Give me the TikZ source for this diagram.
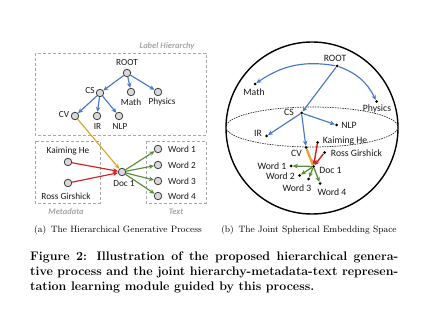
\documentclass[tikz,border=0pt]{standalone}
\usepackage{fontspec}
\setmainfont{Latin Modern Roman}
\newfontfamily\lblfont{Carlito}
\usetikzlibrary{arrows.meta}
\definecolor{arrblue}{HTML}{4A78C8}
\definecolor{arrred}{HTML}{D42020}
\definecolor{arrgreen}{HTML}{5A8E3A}
\definecolor{arrgold}{HTML}{D4A82A}
\definecolor{arrorange}{HTML}{E8A030}
\definecolor{boxgray}{HTML}{A8A8A8}
\tikzset{
  cnode/.style={circle,draw=black!75,fill=black!15,line width=0.8pt,minimum size=7.5pt,inner sep=0pt},
  dnode/.style={circle,fill=black,minimum size=3pt,inner sep=0pt},
  lbl/.style={font=\lblfont\fontsize{9.3}{10}\selectfont,inner sep=0pt,text=black!90},
  slbl/.style={font=\lblfont\fontsize{9.7}{10}\selectfont,inner sep=0pt,text=black!90},
  grouplbl/.style={font=\lblfont\itshape\bfseries\fontsize{8.5}{10}\selectfont,inner sep=0pt,text=black!35},
  dbox/.style={draw=boxgray,line width=0.8pt,dash pattern=on 3pt off 2pt},
  arr/.style={-{Stealth[length=5pt,width=4.5pt]},line width=1.15pt},
  barr/.style={arr,draw=arrblue},
  rarr/.style={arr,draw=arrred},
  garr/.style={arr,draw=arrgreen},
  subcap/.style={font=\fontsize{9.2}{10}\selectfont,inner sep=0pt},
  figcap/.style={font=\bfseries\fontsize{12.4}{14}\selectfont,inner sep=0pt,anchor=west}
}
\begin{document}
\begin{tikzpicture}[x=1pt,y=-1pt]
\useasboundingbox (0,0) rectangle (423,310);
\fill[white] (0,0) rectangle (423,310);
% ---------- Left panel ----------
\draw[dbox] (35,53) rectangle (206,135);
\draw[dbox] (35,141) rectangle (100,203);
\draw[dbox] (146,141) rectangle (206,203);
\node[grouplbl] (lh) at (167,46) {Label Hierarchy};
\node[grouplbl] (md) at (66,212) {Metadata};
\node[grouplbl] (tx) at (176,212) {Text};

\node[cnode] (root) at (127,73) {};
\node[cnode] (cs) at (100,93) {};
\node[cnode] (math) at (131,92) {};
\node[cnode] (phys) at (158,92) {};
\node[cnode] (cv) at (75,116) {};
\node[cnode] (ir) at (97,116) {};
\node[cnode] (nlp) at (119,116) {};
\node[lbl] (rootT) at (127,63) {ROOT};
\node[lbl] (csT) at (90,91) {CS};
\node[lbl] (mathT) at (131,102) {Math};
\node[lbl] (physT) at (162,102) {Physics};
\node[lbl] (cvT) at (64,115) {CV};
\node[lbl] (irT) at (97.5,126.5) {IR};
\node[lbl] (nlpT) at (120,126.5) {NLP};

\node[cnode] (kh) at (68,162) {};
\node[cnode] (rg) at (68,183) {};
\node[cnode] (doc) at (122,172) {};
\node[lbl] (khT) at (68,151) {Kaiming He};
\node[lbl] (rgT) at (66,196) {Ross Girshick};
\node[lbl] (docT) at (124,183.5) {Doc 1};
\node[cnode] (w1) at (158,149) {};
\node[cnode] (w2) at (158,165) {};
\node[cnode] (w3) at (158,181) {};
\node[cnode] (w4) at (158,196) {};
\node[lbl,anchor=west] (w1T) at (168,149) {Word 1};
\node[lbl,anchor=west] (w2T) at (168,165) {Word 2};
\node[lbl,anchor=west] (w3T) at (168,181) {Word 3};
\node[lbl,anchor=west] (w4T) at (168,196) {Word 4};

\draw[barr] (root) -- (cs);
\draw[barr] (root) -- (math);
\draw[barr] (root) -- (phys);
\draw[barr] (cs) -- (cv);
\draw[barr] (cs) -- (ir);
\draw[barr] (cs) -- (nlp);
\draw[arr,draw=arrgold] (cv) -- (doc);
\draw[rarr] (kh) -- (doc);
\draw[rarr] (rg) -- (doc);
\draw[garr] (doc) -- (w1);
\draw[garr] (doc) -- (w2);
\draw[garr] (doc) -- (w3);
\draw[garr] (doc) -- (w4);

% ---------- Right panel (sphere) ----------
\node[circle,draw=black,line width=1.4pt,minimum size=172pt,inner sep=0pt] (sph) at (312,128) {};
\draw[black!80,line width=0.7pt,dash pattern=on 1.5pt off 1pt] (312,127) ellipse [x radius=86, y radius=20];

\node[dnode] (sroot) at (337,66) {};
\node[dnode] (smath) at (255,84) {};
\node[dnode] (sphys) at (376.5,101.5) {};
\node[dnode] (scs) at (301.5,113) {};
\node[dnode] (snlp) at (336.5,125) {};
\node[dnode] (sir) at (266.5,136) {};
\node[dnode] (scv) at (306,147.5) {};
\node[dnode] (skh) at (317.5,142.5) {};
\node[dnode] (srg) at (324.5,152.5) {};
\node[dnode] (sdoc) at (313.5,166.5) {};
\node[dnode] (sw1) at (291,166) {};
\node[dnode] (sw2) at (299.5,175.5) {};
\node[dnode] (sw3) at (308.5,179) {};
\node[dnode] (sw4) at (320,183.5) {};

\node[slbl] (srootT) at (335,58) {ROOT};
\node[slbl] (smathT) at (254,92.5) {Math};
\node[slbl] (sphysT) at (377,108.5) {Physics};
\node[slbl] (scsT) at (289,112) {CS};
\node[slbl] (snlpT) at (349,125) {NLP};
\node[slbl] (sirT) at (258,133.5) {IR};
\node[slbl] (scvT) at (296.5,153) {CV};
\node[slbl] (skhT) at (345,140.5) {Kaiming He};
\node[slbl] (srgT) at (356.5,153) {Ross Girshick};
\node[slbl] (sdocT) at (330.5,170) {Doc 1};
\node[slbl] (sw1T) at (272,166) {Word 1};
\node[slbl] (sw2T) at (280.5,176.5) {Word 2};
\node[slbl] (sw3T) at (297,188) {Word 3};
\node[slbl] (sw4T) at (332,192) {Word 4};

\draw[barr] (sroot) to[bend right=22] (smath);
\draw[barr] (sroot) to[bend left=22] (sphys);
\draw[barr] (sroot) -- (scs);
\draw[barr] (scs) -- (snlp);
\draw[barr] (scs) -- (sir);
\draw[barr] (scs) -- (scv);
\draw[draw=arrorange,line width=2.2pt] (scv) -- (sdoc);
\draw[rarr,line width=1.4pt] (skh) -- (sdoc);
\draw[rarr,line width=1.4pt] (srg) -- (sdoc);
\draw[garr,line width=1.3pt] (sdoc) -- (sw1);
\draw[garr,line width=1.3pt] (sdoc) -- (sw2);
\draw[garr,line width=1.3pt] (sdoc) -- (sw3);
\draw[garr,line width=1.3pt] (sdoc) -- (sw4);

% ---------- Captions ----------
\node[subcap] (capa) at (118,230) {(a)\enspace The Hierarchical Generative Process};
\node[subcap] (capb) at (309,230) {(b)\enspace The Joint Spherical Embedding Space};
\node[figcap] (f1) at (30,257) {\makebox[368pt][s]{Figure 2: Illustration of the proposed hierarchical genera-}};
\node[figcap] (f2) at (30,272) {\makebox[368pt][s]{tive process and the joint hierarchy-metadata-text represen-}};
\node[figcap] (f3) at (30,287) {tation learning module guided by this process.};
\end{tikzpicture}
\end{document}
